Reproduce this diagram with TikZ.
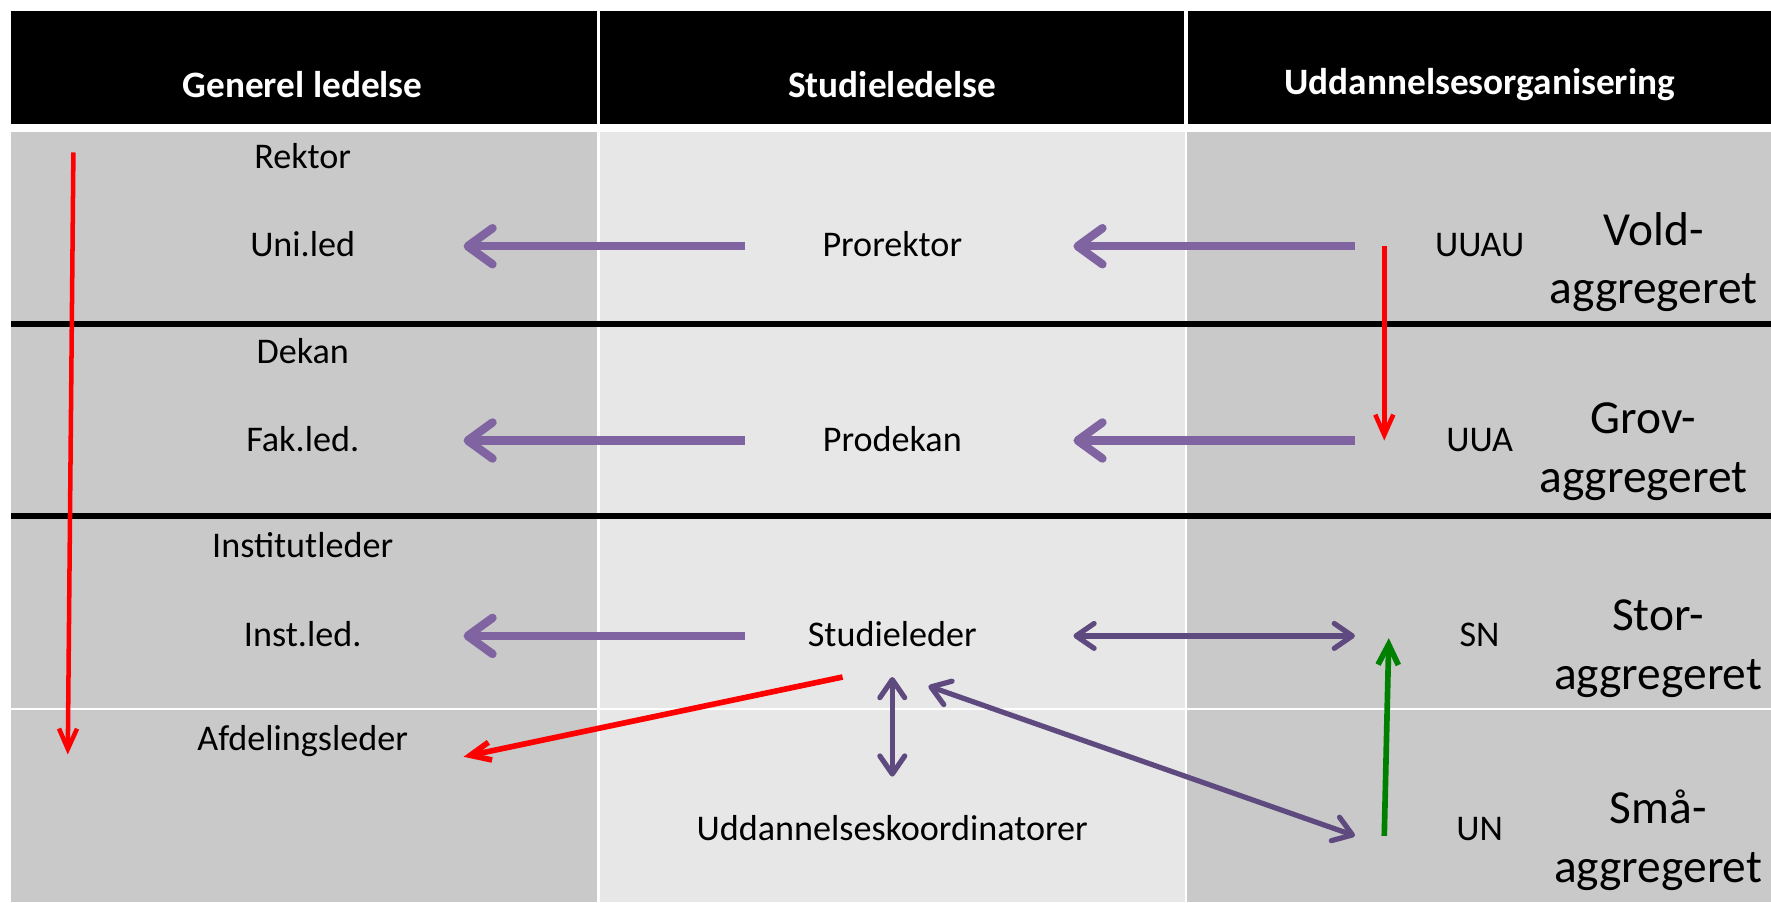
\documentclass[tikz,border=0pt]{standalone}
\usepackage{fontspec}
\setmainfont{Carlito}
\usepackage{tikz}
\usetikzlibrary{arrows.meta}
\definecolor{cellgray}{HTML}{C9C9C9}
\definecolor{celllight}{HTML}{E7E7E7}
\definecolor{lilac}{HTML}{8064A2}
\definecolor{darklilac}{HTML}{5F4A80}
\definecolor{leafgreen}{HTML}{008000}
\tikzstyle{cell} = [inner sep=0pt,minimum height=36pt,text height=1.05em,text depth=0.1em,font=\fontsize{16}{19}\selectfont]
\tikzstyle{cellL} = [cell,minimum width=142pt]
\tikzstyle{cellM} = [cell,minimum width=130pt]
\tikzstyle{cellR} = [cell,minimum width=110pt]
\tikzstyle{headtext} = [text=white,font=\fontsize{16.5}{20}\selectfont\bfseries]
\tikzstyle{aggtext} = [align=center,font=\fontsize{21}{26}\selectfont]
\tikzstyle{bigarrow} = [line width=3.7pt,lilac,-{Straight Barb[length=11pt,width=16pt,round]}]
\tikzstyle{duoarrow} = [line width=2.3pt,darklilac,{Straight Barb[length=8pt,width=11pt,round]}-{Straight Barb[length=8pt,width=11pt,round]}]
\tikzstyle{redarrow} = [line width=2pt,red,-{Straight Barb[length=9pt,width=8pt]}]
\tikzstyle{greenarrow} = [line width=2.5pt,leafgreen,-{Straight Barb[length=9pt,width=9pt]}]

\begin{document}
\begin{tikzpicture}[x=0.5pt,y=-0.5pt]
			\useasboundingbox (0,0) rectangle (1568,799);
			%Table
			\fill[black] (10,10) rectangle (1568,110);
			\fill[cellgray] (10,117) rectangle (529,799);
			\fill[celllight] (531,117) rectangle (1049,799);
			\fill[cellgray] (1051,117) rectangle (1568,799);
			\draw[white,line width=1.5pt] (530,10) -- (530,110) (1050,10) -- (1050,110);
			\draw[white,line width=1pt] (10,628) -- (1568,628);
			\draw[line width=2.5pt] (10,287) -- (1568,287) (10,457) -- (1568,457);
			
			%Nodes
			\node [headtext] (hgen) at (268,75) {Generel ledelse};
			\node [headtext] (hstud) at (790,75) {Studieledelse};
			\node [headtext] (hudd) at (1310,75) {Uddannelsesorganisering};
			
			\node [cellL] (rektor) at (268,140) {Rektor};
			\node [cellL] (unild) at (268,218) {Uni.led};
			\node [cellM] (prorektor) at (790,218) {Prorektor};
			\node [cellR] (uuau) at (1310,218) {UUAU};
			\node [aggtext] (vold) at (1464,232) {Vold-\\aggregeret};
			
			\node [cellL] (dekan) at (268,312) {Dekan};
			\node [cellL] (fakled) at (268,390) {Fak.led.};
			\node [cellM] (prodekan) at (790,390) {Prodekan};
			\node [cellR] (uua) at (1310,390) {UUA};
			\node [aggtext] (grov) at (1455,400) {Grov-\\aggregeret};
			
			\node [cellL] (instleder) at (268,484) {Institutleder};
			\node [cellL] (instled) at (268,563) {Inst.led.};
			\node [cellM] (studieleder) at (790,563) {Studieleder};
			\node [cellR] (sn) at (1310,563) {SN};
			\node [aggtext] (stor) at (1468,574) {Stor-\\aggregeret};
			
			\node [cellL] (afdleder) at (268,655) {Afdelingsleder};
			\node [cellM] (koord) at (790,735) {Uddannelseskoordinatorer};
			\node [cellR] (un) at (1310,735) {UN};
			\node [aggtext] (smaa) at (1468,744) {Små-\\aggregeret};
			
			\coordinate (chaintop) at (65,135);
			\coordinate (chainbot) at (60,668);
			
			%Lines
			\draw[bigarrow] (prorektor.west) -- (unild.east);
			\draw[bigarrow, shorten >=15pt] (uuau.west) -- (prorektor.east);
			\draw[bigarrow] (prodekan.west) -- (fakled.east);
			\draw[bigarrow, shorten >=15pt] (uua.west) -- (prodekan.east);
			\draw[bigarrow] (studieleder.west) -- (instled.east);
			\draw[duoarrow, shorten <=15pt] (studieleder.east) -- (sn.west);
			\draw[duoarrow, shorten >=5.5pt] (studieleder.south) -- (koord.north);
			\draw[duoarrow] ([xshift=16pt,yshift=-4pt]studieleder.south) -- ([yshift=-2.5pt]un.west);
			\draw[redarrow] (chaintop) -- (chainbot);
			\draw[redarrow] ([xshift=13pt]uuau.west) -- ([xshift=13pt]uua.west);
			\draw[redarrow, line width=2.5pt] ([xshift=-22pt]studieleder.south) -- ([yshift=-7.5pt]afdleder.east);
			\draw[greenarrow] ([xshift=13pt,yshift=-2.5pt]un.west) -- ([xshift=15pt,yshift=-1pt]sn.west);
		\end{tikzpicture}
\end{document}
